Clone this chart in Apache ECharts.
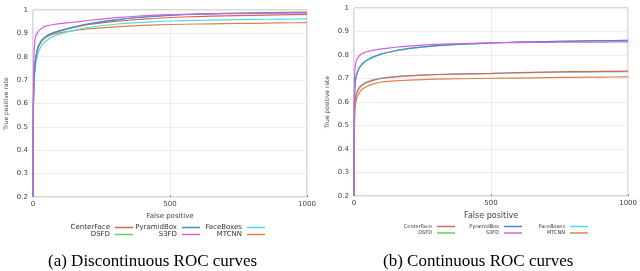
<!DOCTYPE html>
<html><head><meta charset="utf-8">
<script src="https://cdn.jsdelivr.net/npm/echarts@6/dist/echarts.min.js"></script>
<style>html,body{margin:0;padding:0;background:#fff}#c{width:640px;height:271px}</style>
</head><body><div id="c"></div>
<script>
// False positive sample points (shared by both panels)
const fpPoints = [0, 1, 2, 4, 7, 10, 15, 20, 30, 40, 50, 70, 100, 150, 200, 300, 400, 500, 600, 700, 800, 900, 1000];
const seriesNames = ['CenterFace', 'DSFD', 'PyramidBox', 'S3FD', 'FaceBoxes', 'MTCNN'];
const yTicks = [0.2, 0.3, 0.4, 0.5, 0.6, 0.7, 0.8, 0.9, 1];
const xTicks = [0, 500, 1000];
const captions = ['(a) Discontinuous ROC curves', '(b) Continuous ROC curves'];

// (a) Discontinuous ROC
const discCenterFace = [0.2, 0.56, 0.64, 0.71, 0.77, 0.795, 0.828, 0.847, 0.868, 0.880, 0.890, 0.900, 0.911, 0.925, 0.937, 0.951, 0.961, 0.968, 0.972, 0.975, 0.977, 0.979, 0.981];
const discDSFD       = [0.2, 0.55, 0.63, 0.70, 0.76, 0.790, 0.825, 0.845, 0.867, 0.880, 0.890, 0.901, 0.913, 0.928, 0.941, 0.959, 0.970, 0.978, 0.983, 0.986, 0.988, 0.990, 0.991];
const discPyramidBox = [0.2, 0.55, 0.63, 0.70, 0.76, 0.790, 0.823, 0.843, 0.865, 0.878, 0.888, 0.900, 0.912, 0.927, 0.940, 0.957, 0.969, 0.977, 0.982, 0.985, 0.987, 0.988, 0.989];
const discS3FD       = [0.2, 0.60, 0.72, 0.82, 0.87, 0.890, 0.900, 0.910, 0.920, 0.928, 0.932, 0.937, 0.942, 0.948, 0.955, 0.967, 0.975, 0.980, 0.982, 0.984, 0.985, 0.987, 0.988];
const discFaceBoxes  = [0.2, 0.54, 0.62, 0.69, 0.74, 0.770, 0.800, 0.820, 0.845, 0.860, 0.870, 0.885, 0.898, 0.913, 0.925, 0.939, 0.947, 0.953, 0.956, 0.958, 0.960, 0.961, 0.962];
const discMTCNN      = [0.2, 0.52, 0.61, 0.70, 0.76, 0.790, 0.825, 0.845, 0.865, 0.877, 0.885, 0.895, 0.903, 0.912, 0.919, 0.928, 0.934, 0.938, 0.940, 0.942, 0.943, 0.945, 0.946];

// (b) Continuous ROC
const contCenterFace = [0.2, 0.50, 0.56, 0.60, 0.625, 0.637, 0.650, 0.660, 0.672, 0.679, 0.684, 0.692, 0.700, 0.707, 0.711, 0.717, 0.720, 0.722, 0.725, 0.727, 0.729, 0.730, 0.731];
const contDSFD       = [0.2, 0.55, 0.62, 0.67, 0.70, 0.715, 0.732, 0.745, 0.760, 0.771, 0.779, 0.791, 0.804, 0.817, 0.827, 0.839, 0.846, 0.851, 0.855, 0.857, 0.859, 0.861, 0.862];
const contPyramidBox = [0.2, 0.55, 0.63, 0.68, 0.705, 0.720, 0.736, 0.748, 0.762, 0.772, 0.780, 0.792, 0.805, 0.818, 0.828, 0.840, 0.846, 0.851, 0.855, 0.857, 0.859, 0.861, 0.862];
const contS3FD       = [0.2, 0.60, 0.70, 0.75, 0.77, 0.780, 0.790, 0.798, 0.806, 0.811, 0.815, 0.820, 0.826, 0.833, 0.838, 0.845, 0.849, 0.852, 0.853, 0.854, 0.855, 0.855, 0.856];
const contFaceBoxes  = [0.2, 0.50, 0.57, 0.61, 0.632, 0.643, 0.655, 0.664, 0.675, 0.682, 0.687, 0.695, 0.702, 0.708, 0.712, 0.716, 0.719, 0.721, 0.724, 0.726, 0.727, 0.728, 0.729];
const contMTCNN      = [0.2, 0.45, 0.52, 0.57, 0.60, 0.615, 0.630, 0.641, 0.654, 0.662, 0.668, 0.677, 0.685, 0.690, 0.693, 0.697, 0.699, 0.701, 0.702, 0.704, 0.705, 0.706, 0.707];

const colors = {CenterFace:'#e0605a', DSFD:'#60d060', PyramidBox:'#4a88d8', S3FD:'#d060e8', FaceBoxes:'#50dde8', MTCNN:'#e0804c'};
const panels = [
  {CenterFace:discCenterFace, DSFD:discDSFD, PyramidBox:discPyramidBox, S3FD:discS3FD, FaceBoxes:discFaceBoxes, MTCNN:discMTCNN},
  {CenterFace:contCenterFace, DSFD:contDSFD, PyramidBox:contPyramidBox, S3FD:contS3FD, FaceBoxes:contFaceBoxes, MTCNN:contMTCNN}
];
const drawOrder = ['MTCNN', 'FaceBoxes', 'CenterFace', 'DSFD', 'PyramidBox', 'S3FD'];

const grids = [
  {left: 33, top: 10, width: 274, height: 187, show: true, borderColor: '#b0b0b0', borderWidth: 1},
  {left: 354, top: 8, width: 276, height: 188, show: true, borderColor: '#b0b0b0', borderWidth: 1}
];
const lab = {fontFamily: 'DejaVu Sans', color: '#444'};
const xAxes = [], yAxes = [], series = [], legends = [], graphics = [];
const nameFont = [7, 8];
grids.forEach((g, i) => {
  xAxes.push({type: 'value', gridIndex: i, min: 0, max: 1000, interval: 500,
    name: 'False positive', nameLocation: 'middle', nameGap: 14,
    nameTextStyle: Object.assign({fontSize: nameFont[i]}, lab),
    axisLine: {show: false}, axisTick: {show: true, inside: true, length: 2, lineStyle: {color: '#888'}},
    axisLabel: Object.assign({fontSize: 7, margin: 4, formatter: v => String(v)}, lab),
    splitLine: {show: true, lineStyle: {color: '#ececec', width: 1}}});
  yAxes.push({type: 'value', gridIndex: i, min: 0.2, max: 1, interval: 0.1,
    name: 'True positive rate', nameLocation: 'middle', nameGap: 24,
    nameTextStyle: Object.assign({fontSize: 6}, lab),
    axisLine: {show: false}, axisTick: {show: false},
    axisLabel: Object.assign({fontSize: 7, margin: 5, formatter: v => String(Math.round(v * 10) / 10)}, lab),
    splitLine: {show: true, lineStyle: {color: '#ececec', width: 1}}});
  drawOrder.forEach(n => {
    series.push({name: n, type: 'line', xAxisIndex: i, yAxisIndex: i, symbol: 'none',
      smooth: 0.15, lineStyle: {width: 1.2, color: colors[n]}, itemStyle: {color: colors[n]},
      data: fpPoints.map((x, k) => [x, panels[i][n][k]])});
  });
  graphics.push({type: 'text', left: i === 0 ? 48 : 383, top: 253,
    style: {text: captions[i], font: '17px "Liberation Serif"', fill: '#000'}});
});

// legend layout: 3 columns x 2 rows, text right-aligned, line sample on the right
const legendCols = [[133, 200, 265], [455, 522, 588]];
const legendRows = [[224, 231], [224, 230.5]];
const legendFont = [7, 5];
const legendOrder = [['CenterFace', 'PyramidBox', 'FaceBoxes'], ['DSFD', 'S3FD', 'MTCNN']];
for (let p = 0; p < 2; p++) {
  for (let r = 0; r < 2; r++) {
    for (let c = 0; c < 3; c++) {
      legends.push({data: [legendOrder[r][c]], right: 640 - legendCols[p][c], top: legendRows[p][r],
        align: 'right', orient: 'horizontal', padding: 0, itemGap: 0, itemWidth: 18, itemHeight: 1.5,
        icon: 'rect', selectedMode: false,
        textStyle: {fontSize: legendFont[p], fontFamily: 'DejaVu Sans', color: '#333', padding: [0, 0, 0, 0]}});
    }
  }
}

const chart = echarts.init(document.getElementById('c'), null, {renderer: 'canvas'});
chart.setOption({animation: false, grid: grids, xAxis: xAxes, yAxis: yAxes, series: series, legend: legends, graphic: graphics});
</script></body></html>
